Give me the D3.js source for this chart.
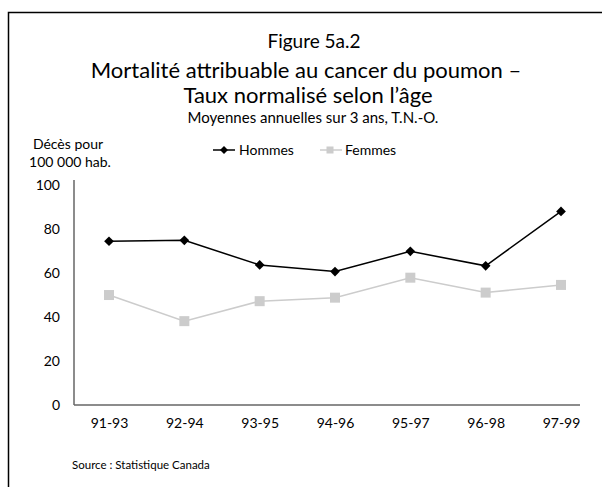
<!DOCTYPE html>
<html>
<head>
<meta charset="utf-8">
<script src="https://cdn.jsdelivr.net/npm/d3@7"></script>
<style>
  html, body { margin: 0; padding: 0; background: #fff; }
  svg { display: block; font-family: Lato, "Open Sans", sans-serif; }
</style>
</head>
<body>
<svg id="chart" width="602" height="487"></svg>
<script>
const categories = ["91-93", "92-94", "93-95", "94-96", "95-97", "96-98", "97-99"];
const hommes = [74.6, 75.0, 63.8, 60.8, 70.0, 63.4, 88.2];
const femmes = [50.1, 38.2, 47.3, 48.9, 58.0, 51.2, 54.7];
const yTicks = [0, 20, 40, 60, 80, 100];
const seriesNames = ["Hommes", "Femmes"];

const svg = d3.select("#chart");

// frame (extends past right and bottom edges)
svg.append("rect").attr("x", 8.5).attr("y", 12.5).attr("width", 700).attr("height", 600)
  .attr("fill", "none").attr("stroke", "#000").attr("stroke-width", 1.5);

// titles
const cx = 310;
svg.append("text").attr("x", 314).attr("y", 48).attr("text-anchor", "middle")
  .attr("font-size", 19).text("Figure 5a.2");
svg.append("text").attr("x", 306).attr("y", 78).attr("text-anchor", "middle")
  .attr("font-size", 22).text("Mortalité attribuable au cancer du poumon –");
svg.append("text").attr("x", 308).attr("y", 103).attr("text-anchor", "middle")
  .attr("font-size", 22).text("Taux normalisé selon l’âge");
svg.append("text").attr("x", 313).attr("y", 123).attr("text-anchor", "middle")
  .attr("font-size", 15).text("Moyennes annuelles sur 3 ans, T.N.-O.");

// y title
svg.append("text").attr("x", 68).attr("y", 149).attr("text-anchor", "middle")
  .attr("font-size", 14).text("Décès pour");
svg.append("text").attr("x", 70).attr("y", 167).attr("text-anchor", "middle")
  .attr("font-size", 14).text("100 000 hab.");

// scales
const x = d3.scalePoint().domain(categories).range([109, 561]);
const y = d3.scaleLinear().domain([0, 102.5]).range([405, 180]);

// axes
const axisColor = "#666";
const gy = svg.append("g").attr("transform", "translate(74,0)")
  .call(d3.axisLeft(y).tickValues(yTicks).tickSize(0).tickPadding(14).tickFormat(d3.format("d")));
gy.select(".domain").attr("d", `M0,${y(102.5)}V${y(0)}`).attr("stroke", axisColor).attr("stroke-width", 1.5);
gy.selectAll("text").attr("font-family", "Lato, 'Open Sans', sans-serif").attr("font-size", 14).attr("fill", "#000");

const gx = svg.append("g").attr("transform", `translate(0,${y(0)})`)
  .call(d3.axisBottom(x).tickSize(0).tickPadding(13));
gx.select(".domain").attr("d", "M74,0H580").attr("stroke", axisColor).attr("stroke-width", 1.5);
gx.selectAll("text").attr("font-family", "Lato, 'Open Sans', sans-serif").attr("font-size", 14).attr("fill", "#000");

// lines
const line = d3.line().x((d, i) => x(categories[i])).y(d => y(d));
svg.append("path").datum(femmes).attr("d", line).attr("fill", "none")
  .attr("stroke", "#cccccc").attr("stroke-width", 1.5);
svg.append("path").datum(hommes).attr("d", line).attr("fill", "none")
  .attr("stroke", "#000").attr("stroke-width", 1.5);

// markers
svg.selectAll(".sq").data(femmes).enter().append("rect").attr("class", "sq")
  .attr("x", (d, i) => x(categories[i]) - 5).attr("y", d => y(d) - 5)
  .attr("width", 10).attr("height", 10).attr("fill", "#cccccc");
const diamond = d3.symbol().type(d3.symbolDiamond2).size(60);
svg.selectAll(".dm").data(hommes).enter().append("path").attr("class", "dm")
  .attr("transform", (d, i) => `translate(${x(categories[i])},${y(d)})`)
  .attr("d", diamond).attr("fill", "#000");

// legend
const lg = svg.append("g");
lg.append("line").attr("x1", 213).attr("x2", 235).attr("y1", 150).attr("y2", 150)
  .attr("stroke", "#000").attr("stroke-width", 1.5);
lg.append("path").attr("transform", "translate(224,150)").attr("d", d3.symbol().type(d3.symbolDiamond2).size(40)).attr("fill", "#000");
lg.append("text").attr("x", 239).attr("y", 155).attr("font-size", 14).text(seriesNames[0]);
lg.append("line").attr("x1", 320).attr("x2", 342).attr("y1", 150).attr("y2", 150)
  .attr("stroke", "#cccccc").attr("stroke-width", 1.5);
lg.append("rect").attr("x", 326.5).attr("y", 146.5).attr("width", 7).attr("height", 7).attr("fill", "#cccccc");
lg.append("text").attr("x", 345).attr("y", 155).attr("font-size", 14).text(seriesNames[1]);

// source
svg.append("text").attr("x", 72).attr("y", 469).attr("font-size", 11.5).text("Source : Statistique Canada");
</script>
</body>
</html>
